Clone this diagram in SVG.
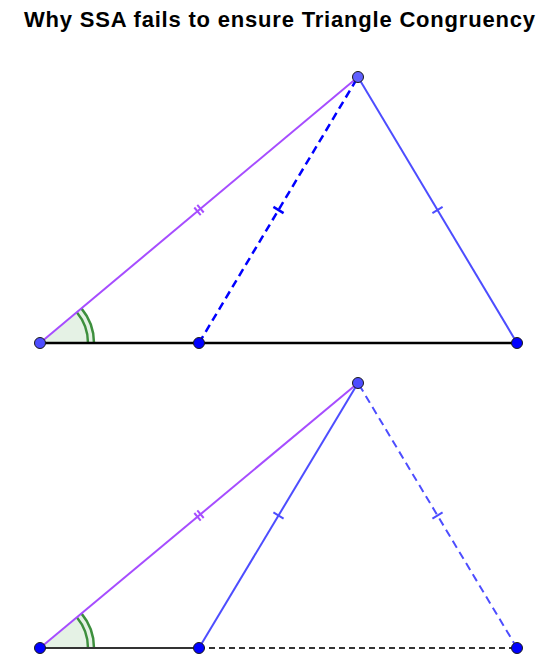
<svg xmlns="http://www.w3.org/2000/svg" width="557" height="666" viewBox="0 0 557 666">
<style>
.title{font-family:"Liberation Sans",Arial,sans-serif;font-weight:bold;font-size:22px;fill:#000}
.purple{stroke:#a64dff;stroke-width:2;fill:none}
.blue{stroke:#4d4dff;stroke-width:2;fill:none}
.dblue{stroke:#0000ff;stroke-width:2.5;fill:none;stroke-dasharray:8,5}
.lblue{stroke:#4d4dff;stroke-width:2;fill:none;stroke-dasharray:8,5}
.base{stroke:#000;stroke-width:2.5;fill:none}
.gray{stroke:#333;stroke-width:2;fill:none}
.graydash{stroke:#333;stroke-width:2;fill:none;stroke-dasharray:6,4}
.sector{fill:#007f00;fill-opacity:0.1;stroke:none}
.arc{stroke:#3d8f3d;stroke-width:2.5;fill:none}
.pt{stroke:#1a1a1a;stroke-width:1}
</style>
<rect width="557" height="666" fill="#fff"/>
<text class="title" x="24" y="27" textLength="511" lengthAdjust="spacing">Why SSA fails to ensure Triangle Congruency</text>

<g id="top-angle">
<path class="sector" d="M40,343 L94,343 A54,54 0 0 0 81.4,308.4 Z"/>
<path class="arc" d="M88,343 A48,48 0 0 0 76.8,312.2"/>
<path class="arc" d="M94,343 A54,54 0 0 0 81.4,308.4"/>
</g>
<g id="bottom-angle">
<path class="sector" d="M40,648 L94,648 A54,54 0 0 0 81.4,613.4 Z"/>
<path class="arc" d="M88,648 A48,48 0 0 0 76.8,617.2"/>
<path class="arc" d="M94,648 A54,54 0 0 0 81.4,613.4"/>
</g>

<g id="connectors">
<!-- top triangle -->
<line class="base" x1="40" y1="343" x2="517" y2="343"/>
<line class="purple" x1="40" y1="343" x2="358" y2="77"/>
<line class="dblue" x1="199" y1="343" x2="358" y2="77"/>
<line class="blue" x1="517" y1="343" x2="358" y2="77"/>
<!-- ticks top -->
<line class="purple" x1="194.3" y1="207.5" x2="200.7" y2="215.1"/>
<line class="purple" x1="197.3" y1="204.9" x2="203.7" y2="212.5"/>
<line stroke="#0000ff" stroke-width="2.5" x1="273.4" y1="206.9" x2="283.6" y2="213.1"/>
<line stroke="#4d4dff" stroke-width="2" x1="432.4" y1="213.1" x2="442.6" y2="206.9"/>
<!-- bottom triangle -->
<line class="gray" x1="40" y1="648" x2="199" y2="648"/>
<line class="graydash" x1="199" y1="648" x2="517" y2="648"/>
<line class="purple" x1="40" y1="648" x2="358" y2="383"/>
<line class="blue" x1="199" y1="648" x2="358" y2="383"/>
<line class="lblue" x1="517" y1="648" x2="358" y2="383"/>
<!-- ticks bottom -->
<line class="purple" x1="194.3" y1="513.0" x2="200.7" y2="520.6"/>
<line class="purple" x1="197.3" y1="510.4" x2="203.7" y2="518.0"/>
<line stroke="#4d4dff" stroke-width="2" x1="273.4" y1="512.4" x2="283.6" y2="518.6"/>
<line stroke="#4d4dff" stroke-width="2" x1="432.4" y1="518.6" x2="442.6" y2="512.4"/>
</g>

<g id="top-A"><circle class="pt" cx="40" cy="343" r="5.5" fill="#4d4dff"/></g>
<g id="top-B"><circle class="pt" cx="199" cy="343" r="5.5" fill="#0000ff"/></g>
<g id="top-C"><circle class="pt" cx="517" cy="343" r="5.5" fill="#0000ff"/></g>
<g id="top-D"><circle class="pt" cx="358" cy="77" r="5.5" fill="#6060ff"/></g>
<g id="bottom-A"><circle class="pt" cx="40" cy="648" r="5.5" fill="#0000ff"/></g>
<g id="bottom-B"><circle class="pt" cx="199" cy="648" r="5.5" fill="#0000ff"/></g>
<g id="bottom-C"><circle class="pt" cx="517" cy="648" r="5.5" fill="#0000ff"/></g>
<g id="bottom-D"><circle class="pt" cx="358" cy="383" r="5.5" fill="#4d4dff"/></g>
</svg>
